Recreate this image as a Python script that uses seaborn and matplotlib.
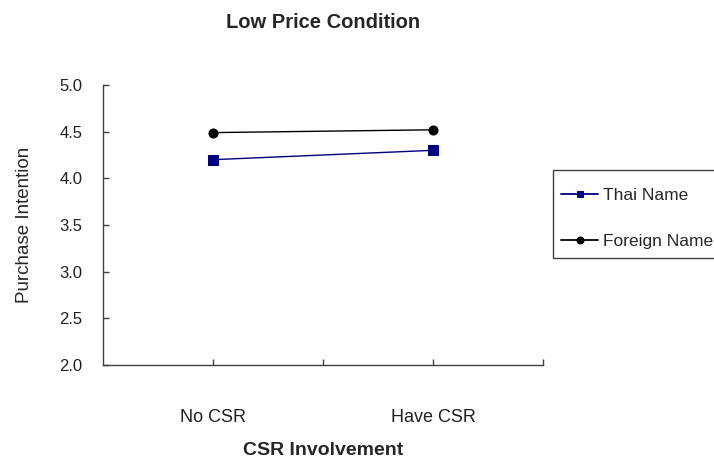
import matplotlib
matplotlib.use("Agg")
import matplotlib.pyplot as plt
from matplotlib.patches import Rectangle
import seaborn as sns
import pandas as pd

conditions = ["No CSR", "Have CSR"]
thai_name = [4.20, 4.30]
foreign_name = [4.49, 4.52]
series_names = ["Thai Name", "Foreign Name"]
y_ticks = [2.0, 2.5, 3.0, 3.5, 4.0, 4.5, 5.0]

df = pd.DataFrame({
    "pos": [0, 1, 0, 1],
    "CSR": conditions * 2,
    "value": thai_name + foreign_name,
    "series": [series_names[0]] * 2 + [series_names[1]] * 2,
})

sns.set_theme(style="white")
plt.rcParams["font.family"] = ["Liberation Sans", "DejaVu Sans"]

W, H = 714, 465
fig = plt.figure(figsize=(W / 100, H / 100), dpi=100)
ax = fig.add_axes([103 / W, 1 - 365 / H, 440 / W, 280 / H])

sns.lineplot(
    data=df, x="pos", y="value", hue="series", style="series",
    palette={"Thai Name": "#000080", "Foreign Name": "#000000"},
    markers={"Thai Name": "s", "Foreign Name": "o"},
    dashes=False, markersize=6.5, linewidth=1.0, ax=ax,
    markeredgecolor=None,
)

ax.set_xlim(-0.5, 1.5)
ax.set_ylim(2.0, 5.0)
ax.set_yticks(y_ticks)
ax.set_yticklabels([f"{v:.1f}" for v in y_ticks], fontsize=12, color="#202020")
ax.set_xticks([0, 0.5, 1, 1.5])
ax.set_xticklabels(["No CSR", "", "Have CSR", ""], fontsize=13, color="#202020")
ax.tick_params(axis="x", bottom=True, direction="in", length=4, width=1,
               color="#404040", pad=32)
ax.tick_params(axis="y", left=True, direction="in", length=4, width=1,
               color="#404040", pad=15)

for side in ["top", "right"]:
    ax.spines[side].set_visible(False)
for side in ["left", "bottom"]:
    ax.spines[side].set_color("#404040")
    ax.spines[side].set_linewidth(1.0)

ax.set_xlabel("CSR Involvement", fontsize=14, fontweight="bold", labelpad=11)
ax.set_ylabel("Purchase Intention", fontsize=13.5, labelpad=19)
ax.set_title("Low Price Condition", fontsize=14.5, fontweight="bold", pad=41)

# Legend box drawn as a figure-level rectangle, entries placed inside it
fig.add_artist(Rectangle((553 / W, 1 - 258 / H), 180 / W, 88 / H,
                         transform=fig.transFigure, facecolor="white",
                         edgecolor="#404040", linewidth=1.0, zorder=1))

handles, labels = ax.get_legend_handles_labels()
if ax.get_legend() is not None:
    ax.get_legend().remove()
for h in handles:
    h.set_markersize(5)
    h.set_linewidth(1.3)
leg = fig.legend(
    handles, labels, loc="upper left",
    bbox_to_anchor=(561 / W, 1 - 188 / H), bbox_transform=fig.transFigure,
    frameon=False, fontsize=12.5, labelspacing=1.75,
    handlelength=2.15, handletextpad=0.25, borderpad=0, borderaxespad=0,
)
leg.set_zorder(5)

fig.savefig("out.png", dpi=100)
